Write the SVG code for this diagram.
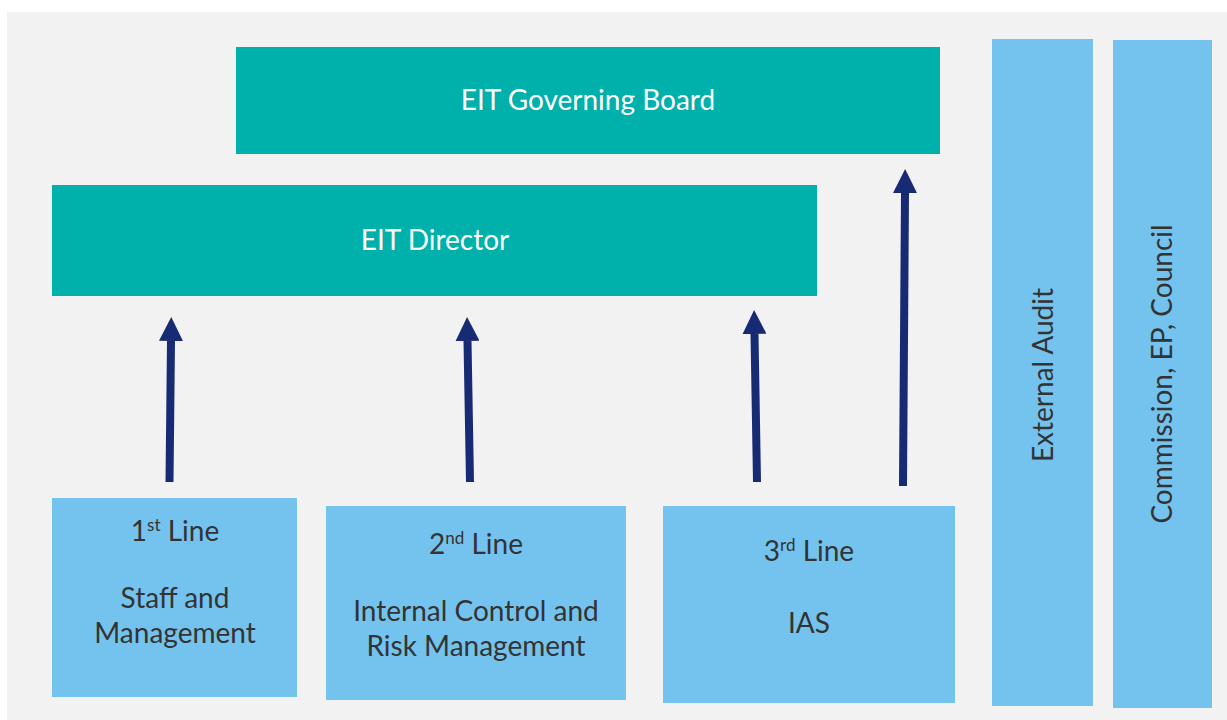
<svg xmlns="http://www.w3.org/2000/svg" width="1227" height="720" viewBox="0 0 1227 720">
  <style>
    .teal { fill: #00b0aa; }
    .blue { fill: #73c3ee; }
    .lbl { font-family: Lato, "Liberation Sans", sans-serif; font-size: 28px; fill: #333333; text-anchor: middle; }
    .lbl-w { font-family: Lato, "Liberation Sans", sans-serif; font-size: 28px; fill: #ffffff; text-anchor: middle; }
    .sup { font-size: 17px; }
    .conn line { stroke: #172b75; stroke-width: 8; marker-end: url(#head); }
  </style>
  <defs>
    <marker id="head" viewBox="0 0 24 24" markerUnits="userSpaceOnUse" markerWidth="24" markerHeight="24" refX="0" refY="12" orient="auto">
      <path d="M0,0 L24,12 L0,24 z" fill="#172b75"/>
    </marker>
  </defs>

  <!-- canvas -->
  <rect x="7" y="12" width="1220" height="708" fill="#f2f2f2"/>

  <g id="governing-board">
    <rect class="teal" x="236" y="47" width="704" height="107"/>
    <text class="lbl-w" x="588" y="110">EIT Governing Board</text>
  </g>

  <g id="director">
    <rect class="teal" x="52" y="185" width="765" height="111"/>
    <text class="lbl-w" x="435" y="250">EIT Director</text>
  </g>

  <g id="first-line">
    <rect class="blue" x="52" y="498" width="245" height="199"/>
    <text class="lbl" x="175" y="541">1<tspan class="sup" dy="-10">st</tspan><tspan dy="10"> Line</tspan></text>
    <text class="lbl" x="175" y="608">Staff and</text>
    <text class="lbl" x="175" y="643">Management</text>
  </g>

  <g id="second-line">
    <rect class="blue" x="326" y="506" width="300" height="194"/>
    <text class="lbl" x="476" y="554">2<tspan class="sup" dy="-10">nd</tspan><tspan dy="10"> Line</tspan></text>
    <text class="lbl" x="476" y="621">Internal Control and</text>
    <text class="lbl" x="476" y="656">Risk Management</text>
  </g>

  <g id="third-line">
    <rect class="blue" x="663" y="506" width="292" height="197"/>
    <text class="lbl" x="809" y="561">3<tspan class="sup" dy="-10">rd</tspan><tspan dy="10"> Line</tspan></text>
    <text class="lbl" x="809" y="633">IAS</text>
  </g>

  <g id="external-audit">
    <rect class="blue" x="992" y="39" width="101" height="667"/>
    <text class="lbl" transform="translate(1053 375) rotate(-90)">External Audit</text>
  </g>

  <g id="commission">
    <rect class="blue" x="1113" y="40" width="99" height="668"/>
    <text class="lbl" transform="translate(1172 374) rotate(-90)">Commission, EP, Council</text>
  </g>

  <g id="connectors" class="conn">
    <line x1="169.5" y1="482" x2="171" y2="341"/>
    <line x1="470" y1="482" x2="467.5" y2="341"/>
    <line x1="757" y1="482" x2="754.5" y2="334"/>
    <line x1="903" y1="486" x2="905" y2="193"/>
  </g>
</svg>
